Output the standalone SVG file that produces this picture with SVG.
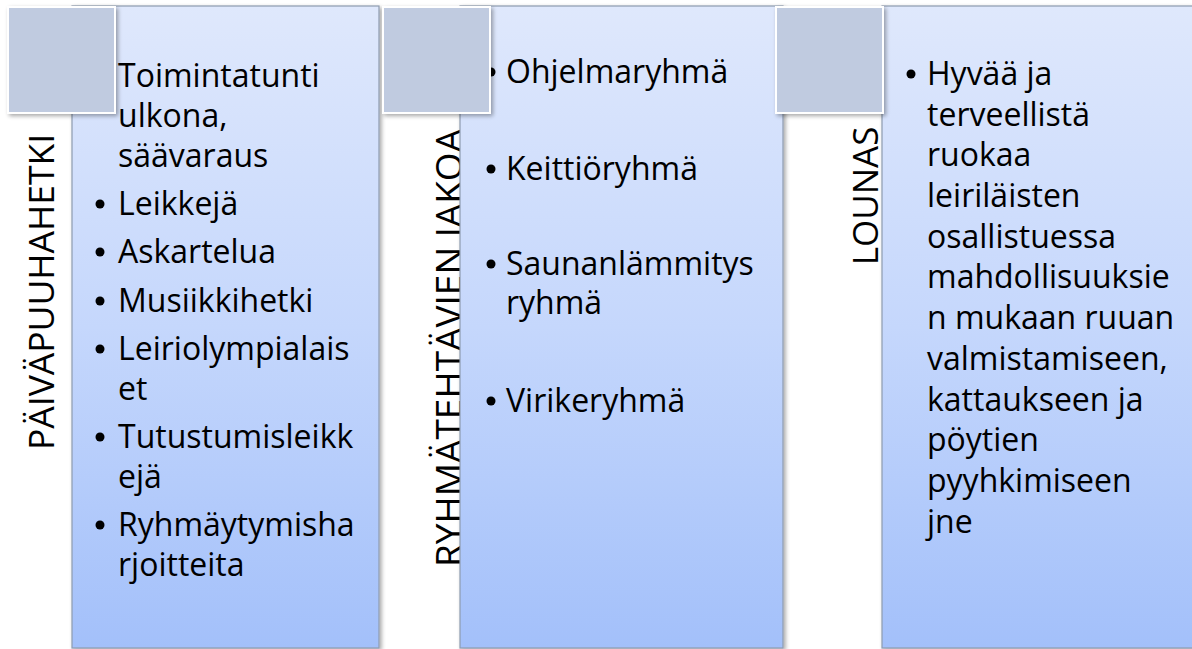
<svg xmlns="http://www.w3.org/2000/svg" width="1192" height="649" viewBox="0 0 1192 649">
<defs>
<linearGradient id="pg" x1="0" y1="0" x2="0" y2="1">
<stop offset="0" stop-color="#dfe8fc"/>
<stop offset="0.5" stop-color="#c5d7fc"/>
<stop offset="1" stop-color="#a3c0fa"/>
</linearGradient>
<filter id="sh" x="-10%" y="-10%" width="130%" height="130%">
<feGaussianBlur in="SourceAlpha" stdDeviation="2"/>
<feOffset dx="1.5" dy="2" result="b"/>
<feComponentTransfer><feFuncA type="linear" slope="0.35"/></feComponentTransfer>
<feMerge><feMergeNode/><feMergeNode in="SourceGraphic"/></feMerge>
</filter>
</defs>
<style>
.panel{fill:url(#pg);stroke:#8e9bb0;stroke-width:1.2}
.sq{fill:#c0cbe0;stroke:#ffffff;stroke-width:2}
.lbl{font-family:"Open Sans","Noto Sans",sans-serif;fill:#000;text-anchor:middle}
.t{font-family:"Open Sans","Noto Sans",sans-serif;font-size:32px;fill:#000}
.b{fill:#000}
</style>
<rect width="1192" height="649" fill="#ffffff"/>

<g id="node-paivapuuhahetki">
<text class="lbl" font-size="35.5" transform="translate(54,292) rotate(-90)">PÄIVÄPUUHAHETKI</text>
<rect class="panel" x="72" y="6" width="307" height="642" filter="url(#sh)"/>
<text class="t" x="118" y="87">Toimintatunti</text>
<text class="t" x="118" y="127">ulkona,</text>
<text class="t" x="118" y="167">säävaraus</text>
<circle class="b" cx="100" cy="204" r="4.5"/>
<text class="t" x="118" y="215">Leikkejä</text>
<circle class="b" cx="100" cy="252" r="4.5"/>
<text class="t" x="118" y="263">Askartelua</text>
<circle class="b" cx="100" cy="301" r="4.5"/>
<text class="t" x="118" y="312">Musiikkihetki</text>
<circle class="b" cx="100" cy="349" r="4.5"/>
<text class="t" x="118" y="360">Leiriolympialais</text>
<text class="t" x="118" y="400">et</text>
<circle class="b" cx="100" cy="437" r="4.5"/>
<text class="t" x="118" y="448">Tutustumisleikk</text>
<text class="t" x="118" y="488">ejä</text>
<circle class="b" cx="100" cy="525" r="4.5"/>
<text class="t" x="118" y="536">Ryhmäytymisha</text>
<text class="t" x="118" y="576">rjoitteita</text>
<rect class="sq" x="8" y="7" width="107" height="106" filter="url(#sh)"/>
</g>

<g id="node-ryhmatehtavien-jakoa">
<text class="lbl" font-size="37" transform="translate(462,348) rotate(-90)">RYHMÄTEHTÄVIEN JAKOA</text>
<rect class="panel" x="460" y="6" width="323" height="642" filter="url(#sh)"/>
<circle class="b" cx="491" cy="72" r="4.5"/>
<text class="t" x="506" y="83">Ohjelmaryhmä</text>
<circle class="b" cx="491" cy="169" r="4.5"/>
<text class="t" x="506" y="180">Keittiöryhmä</text>
<circle class="b" cx="491" cy="264" r="4.5"/>
<text class="t" x="506" y="275">Saunanlämmitys</text>
<text class="t" x="506" y="314">ryhmä</text>
<circle class="b" cx="491" cy="401" r="4.5"/>
<text class="t" x="506" y="412">Virikeryhmä</text>
<rect class="sq" x="383" y="7" width="107" height="106" filter="url(#sh)"/>
</g>

<g id="node-lounas">
<text class="lbl" font-size="35" transform="translate(878,196) rotate(-90)">LOUNAS</text>
<rect class="panel" x="882" y="6" width="330" height="642" filter="url(#sh)"/>
<circle class="b" cx="911" cy="74" r="4.5"/>
<text class="t" x="927" y="85">Hyvää ja</text>
<text class="t" x="927" y="126">terveellistä</text>
<text class="t" x="927" y="166">ruokaa</text>
<text class="t" x="927" y="207">leiriläisten</text>
<text class="t" x="927" y="248">osallistuessa</text>
<text class="t" x="927" y="288">mahdollisuuksie</text>
<text class="t" x="927" y="329">n mukaan ruuan</text>
<text class="t" x="927" y="370">valmistamiseen,</text>
<text class="t" x="927" y="411">kattaukseen ja</text>
<text class="t" x="927" y="451">pöytien</text>
<text class="t" x="927" y="492">pyyhkimiseen</text>
<text class="t" x="927" y="533">jne</text>
<rect class="sq" x="776" y="7" width="107" height="106" filter="url(#sh)"/>
</g>

<g id="connectors"></g>
</svg>
